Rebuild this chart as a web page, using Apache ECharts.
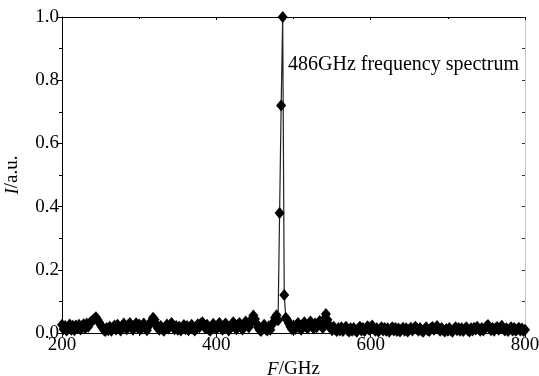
<!DOCTYPE html>
<html>
<head>
<meta charset="utf-8">
<script src="https://cdn.jsdelivr.net/npm/echarts@6/dist/echarts.min.js"></script>
<style>html,body{margin:0;padding:0;background:#fff;}#c{width:539px;height:376px;}</style>
</head>
<body>
<div id="c"></div>
<script>
// Frequency grid (GHz): first sample and sample spacing
const freqStart = 200;
const freqStep = 2;
// Intensity (a.u.), one value per sample, 200..800 GHz
const intensity = [
  0.026,0.012,0.022,0.008,0.020,0.027,0.010,0.023,0.009,0.024,
  0.016,0.026,0.011,0.022,0.028,0.015,0.030,0.020,0.032,0.036,
  0.040,0.045,0.050,0.042,0.034,0.026,0.018,0.010,0.006,0.016,
  0.009,0.020,0.007,0.016,0.024,0.011,0.026,0.017,0.008,0.021,
  0.030,0.020,0.012,0.026,0.032,0.018,0.010,0.024,0.031,0.017,
  0.027,0.012,0.022,0.030,0.016,0.009,0.021,0.029,0.038,0.048,
  0.042,0.028,0.016,0.010,0.022,0.012,0.007,0.019,0.027,0.014,
  0.025,0.032,0.020,0.012,0.022,0.010,0.020,0.008,0.017,0.025,
  0.012,0.022,0.009,0.019,0.026,0.013,0.008,0.020,0.028,0.018,
  0.030,0.034,0.024,0.014,0.026,0.011,0.007,0.020,0.029,0.019,
  0.012,0.025,0.032,0.018,0.010,0.024,0.030,0.016,0.008,0.020,
  0.028,0.034,0.020,0.012,0.026,0.032,0.019,0.011,0.026,0.036,
  0.028,0.018,0.032,0.044,0.055,0.044,0.030,0.018,0.010,0.006,
  0.018,0.026,0.012,0.008,0.021,0.010,0.026,0.034,0.048,0.056,
  0.040,0.380,0.720,1.000,0.120,0.048,0.040,0.030,0.020,0.012,
  0.024,0.012,0.026,0.032,0.016,0.010,0.027,0.034,0.022,0.014,
  0.029,0.036,0.022,0.014,0.030,0.018,0.032,0.038,0.028,0.016,
  0.044,0.060,0.042,0.026,0.016,0.009,0.020,0.011,0.006,0.016,
  0.008,0.018,0.006,0.014,0.020,0.009,0.005,0.015,0.007,0.016,
  0.009,0.004,0.014,0.020,0.008,0.016,0.006,0.014,0.021,0.010,
  0.018,0.024,0.014,0.007,0.015,0.005,0.012,0.018,0.008,0.016,
  0.007,0.015,0.004,0.012,0.018,0.008,0.016,0.006,0.014,0.005,
  0.012,0.017,0.007,0.015,0.005,0.011,0.017,0.008,0.015,0.020,
  0.013,0.007,0.016,0.008,0.004,0.013,0.018,0.009,0.006,0.015,
  0.019,0.010,0.017,0.022,0.014,0.007,0.016,0.009,0.005,0.013,
  0.007,0.016,0.008,0.004,0.012,0.018,0.009,0.016,0.007,0.015,
  0.006,0.013,0.018,0.009,0.005,0.015,0.008,0.017,0.011,0.020,
  0.013,0.007,0.016,0.008,0.015,0.021,0.025,0.017,0.009,0.016,
  0.007,0.015,0.019,0.010,0.017,0.023,0.014,0.008,0.015,0.006,
  0.013,0.018,0.008,0.016,0.007,0.012,0.017,0.008,0.014,0.006,
  0.010
];
const xTicks = [200, 400, 600, 800];
const yTicks = ['0.0', '0.2', '0.4', '0.6', '0.8', '1.0'];
const annotation = '486GHz frequency spectrum';

const points = intensity.map((v, i) => [freqStart + i * freqStep, v]);
const font = 'Liberation Serif';

const chart = echarts.init(document.getElementById('c'), null, {renderer: 'canvas'});
chart.setOption({
  animation: false,
  backgroundColor: '#fff',
  grid: {left: 62, right: 14, top: 17, bottom: 43, outerBoundsMode: 'none', containLabel: false},
  xAxis: [{
    type: 'value', min: 200, max: 800, interval: 200,
    name: '{i|F}/GHz', nameLocation: 'middle', nameGap: 27,
    nameTextStyle: {fontFamily: font, fontSize: 19, color: '#000',
      rich: {i: {fontFamily: font, fontSize: 19, fontStyle: 'italic', color: '#000'}}},
    axisLine: {show: true, onZero: false, lineStyle: {color: '#000', width: 1}},
    axisTick: {show: true, inside: false, length: 4, lineStyle: {color: '#000'}},
    minorTick: {show: true, splitNumber: 2, length: 3, lineStyle: {color: '#000'}},
    splitLine: {show: false},
    axisLabel: {fontFamily: font, fontSize: 19, color: '#000', margin: 3,
      formatter: v => xTicks.includes(v) ? String(v) : ''}
  }, {
    type: 'value', position: 'top', min: 200, max: 800, interval: 200,
    axisLine: {show: true, onZero: false, lineStyle: {color: '#000', width: 1}},
    axisTick: {show: true, inside: true, length: 3, lineStyle: {color: '#000'}},
    minorTick: {show: true, splitNumber: 2, length: 2, lineStyle: {color: '#000'}},
    axisLabel: {show: false}, splitLine: {show: false}
  }],
  yAxis: [{
    type: 'value', min: 0, max: 1, interval: 0.2,
    name: '{i|I}/a.u.', nameLocation: 'middle', nameGap: 40,
    nameTextStyle: {fontFamily: font, fontSize: 19, color: '#000',
      rich: {i: {fontFamily: font, fontSize: 19, fontStyle: 'italic', color: '#000'}}},
    axisLine: {show: true, onZero: false, lineStyle: {color: '#000', width: 1}},
    axisTick: {show: true, inside: false, length: 4, lineStyle: {color: '#000'}},
    minorTick: {show: true, splitNumber: 2, length: 3, lineStyle: {color: '#000'}},
    splitLine: {show: false},
    axisLabel: {fontFamily: font, fontSize: 19, color: '#000', margin: 3,
      formatter: v => yTicks[Math.round(v / 0.2)]}
  }, {
    type: 'value', position: 'right', min: 0, max: 1, interval: 0.2,
    axisLine: {show: true, onZero: false, lineStyle: {color: '#bbb', width: 1, type: 'dotted'}},
    axisTick: {show: true, inside: true, length: 3, lineStyle: {color: '#333'}},
    minorTick: {show: true, splitNumber: 2, length: 3, lineStyle: {color: '#333'}},
    axisLabel: {show: false}, splitLine: {show: false}
  }],
  graphic: [{
    type: 'text', left: 288, top: 55,
    style: {text: annotation, font: '20px "Liberation Serif"', fill: '#000'}
  }],
  series: [{
    type: 'line',
    data: points,
    symbol: 'diamond',
    symbolSize: [10, 12],
    showAllSymbol: true,
    clip: false,
    lineStyle: {color: '#222', width: 1.2},
    itemStyle: {color: '#000', borderWidth: 0}
  }]
});
</script>
</body>
</html>
